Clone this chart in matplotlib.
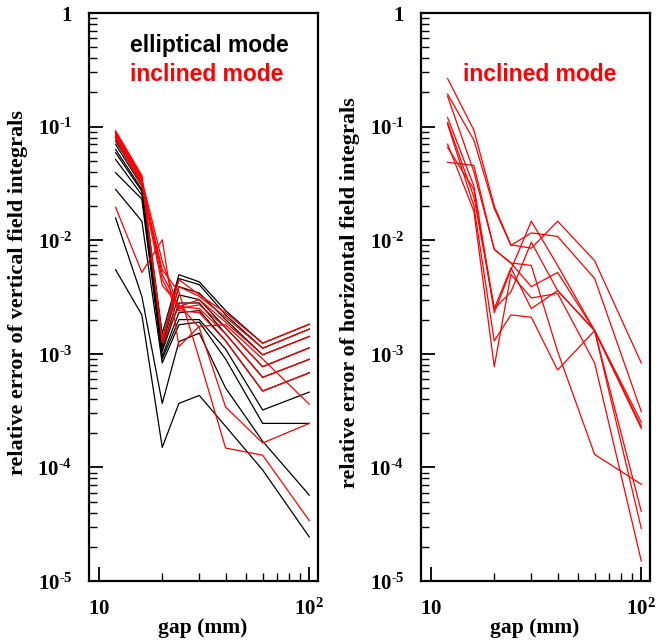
import matplotlib
matplotlib.use("Agg")
import matplotlib.pyplot as plt
from matplotlib.ticker import LogLocator, NullFormatter, FixedLocator

plt.rcParams['mathtext.fontset'] = 'custom'
plt.rcParams['mathtext.rm'] = 'Liberation Serif:bold'
plt.rcParams['mathtext.bf'] = 'Liberation Serif:bold'
plt.rcParams['mathtext.it'] = 'Liberation Serif:bold'

# ---------------- data ----------------
gap = [12, 16, 20, 24, 30, 40, 60, 100]

# left panel: relative error of vertical field integrals, elliptical mode
elliptical_vertical = [
    [0.080, 0.034, 1.5e-3, 4.97e-3, 4.3e-3, 2.4e-3, 1.24e-3, 1.82e-3],
    [0.0746, 0.032, 1.3e-3, 4.6e-3, 4.06e-3, 2.2e-3, 1.12e-3, 1.65e-3],
    [0.0698, 0.030, 1.2e-3, 3.9e-3, 3.42e-3, 2.0e-3, 9.8e-4, 1.42e-3],
    [0.063, 0.028, 1.1e-3, 3.3e-3, 3.0e-3, 1.7e-3, 7.7e-4, 1.13e-3],
    [0.059, 0.027, 1.05e-3, 2.8e-3, 2.8e-3, 1.5e-3, 6.2e-4, 8.95e-4],
    [0.0514, 0.025, 9.5e-4, 2.3e-3, 2.4e-3, 1.3e-3, 4.7e-4, 6.8e-4],
    [0.0393, 0.023, 9.0e-4, 2.0e-3, 2.0e-3, 1.1e-3, 3.2e-4, 4.6e-4],
    [0.028, 0.0147, 8.3e-4, 1.8e-3, 1.9e-3, 9.0e-4, 2.44e-4, 2.44e-4],
    [0.0157, 3.2e-3, 3.66e-4, 1.28e-3, 1.52e-3, 5.0e-4, 1.7e-4, 5.7e-5],
    [0.0055, 2.2e-3, 1.5e-4, 3.66e-4, 4.3e-4, 2.3e-4, 9.5e-5, 2.44e-5],
]

# left panel: inclined mode
inclined_vertical = [
    [0.092, 0.037, 1.35e-3, 4.5e-3, 3.3e-3, 2.3e-3, 1.24e-3, 1.82e-3],
    [0.090, 0.036, 1.3e-3, 3.9e-3, 3.2e-3, 2.1e-3, 1.12e-3, 1.65e-3],
    [0.088, 0.035, 1.25e-3, 2.6e-3, 3.0e-3, 1.9e-3, 9.8e-4, 1.42e-3],
    [0.086, 0.034, 6.5e-3, 2.5e-3, 2.7e-3, 1.7e-3, 7.7e-4, 1.13e-3],
    [0.084, 0.033, 5.0e-3, 2.6e-3, 2.5e-3, 1.5e-3, 6.2e-4, 8.95e-4],
    [0.082, 0.032, 4.5e-3, 2.4e-3, 2.3e-3, 1.3e-3, 4.7e-4, 6.8e-4],
    [0.080, 0.031, 5.5e-3, 3.5e-3, 9.0e-4, 1.48e-4, 1.28e-4, 3.4e-5],
    [0.078, 0.030, 4.0e-3, 2.7e-3, 1.7e-3, 3.4e-4, 1.64e-4, 2.44e-4],
    [0.0195, 5.2e-3, 0.0101, 1.16e-3, 1.75e-3, 1.8e-3, 9.0e-4, 3.6e-4],
]

# right panel: relative error of horizontal field integrals, inclined mode
inclined_horizontal = [
    [0.265, 0.093, 0.020, 0.0091, 0.0085, 0.0147, 0.0066, 8.3e-4],
    [0.193, 0.076, 0.019, 0.0090, 0.0116, 0.0108, 0.0046, 3.1e-4],
    [0.185, 0.040, 0.0083, 0.0063, 0.0039, 0.0052, 0.0016, 2.3e-4],
    [0.120, 0.030, 0.0023, 0.0055, 0.0147, 0.0060, 0.0016, 2.5e-4],
    [0.109, 0.024, 0.0025, 0.0035, 0.0096, 0.0036, 0.0016, 2.9e-5],
    [0.105, 0.020, 0.0013, 0.0022, 0.0021, 7.2e-4, 0.0016, 2.2e-4],
    [0.070, 0.018, 7.7e-4, 0.0050, 0.0031, 0.0034, 8.3e-4, 1.5e-5],
    [0.0656, 0.028, 0.0025, 0.0057, 0.0025, 0.0036, 0.0016, 4.1e-5],
    [0.0485, 0.0455, 0.0083, 0.0063, 0.0060, 1.05e-3, 1.3e-4, 7.1e-5],
]

y_ticks = [1e-5, 1e-4, 1e-3, 1e-2, 1e-1, 1]
y_labels = [r'$10^{\text{-}5}$', r'$10^{\text{-}4}$', r'$10^{\text{-}3}$',
            r'$10^{\text{-}2}$', r'$10^{\text{-}1}$', r'$1$']
x_ticks = [10, 100]
x_labels = [r'$10$', r'$10^{2}$']

# ---------------- figure ----------------
W, H = 662, 644
fig = plt.figure(figsize=(W / 100, H / 100), dpi=100)

def px_axes(x0, y0, x1, y1):
    return fig.add_axes([x0 / W, 1 - y1 / H, (x1 - x0) / W, (y1 - y0) / H])

ax1 = px_axes(89, 13, 318, 581)
ax2 = px_axes(421, 13, 650, 581)

RED = '#ff0000'
for ax in (ax1, ax2):
    ax.set_xscale('log')
    ax.set_yscale('log')
    ax.set_xlim(8.97, 110)
    ax.set_ylim(1e-5, 1)
    for s in ax.spines.values():
        s.set_linewidth(1.6)
    ax.set_yticks(y_ticks)
    ax.set_yticklabels(y_labels, fontsize=15)
    ax.set_xticks(x_ticks)
    ax.set_xticklabels(x_labels, fontsize=15)
    ax.yaxis.set_minor_locator(LogLocator(base=10, subs=range(2, 10), numticks=20))
    ax.xaxis.set_minor_locator(FixedLocator([20, 30, 40, 50, 60, 70, 80, 90]))
    ax.xaxis.set_minor_formatter(NullFormatter())
    ax.yaxis.set_minor_formatter(NullFormatter())
    ax.tick_params(which='major', direction='in', length=10, width=1.3,
                   top=False, right=False)
    ax.tick_params(axis='y', which='major', pad=12)
    ax.tick_params(axis='x', which='major', pad=12)
    ax.tick_params(which='minor', direction='in', length=6, width=1.0,
                   top=False, right=False)
    ax.set_xlabel('gap (mm)', fontsize=15.5, fontweight='bold',
                  family='Liberation Serif')
    ax.xaxis.set_label_coords(0.498, -0.066)

for vals in elliptical_vertical:
    ax1.plot(gap, vals, color='black', lw=0.9)
for vals in inclined_vertical:
    ax1.plot(gap, vals, color=RED, lw=0.9)
for vals in inclined_horizontal:
    ax2.plot(gap, vals, color=RED, lw=0.9)

ax1.set_ylabel('relative error of vertical field integrals', fontsize=16,
               fontweight='bold', family='Liberation Serif')
ax2.set_ylabel('relative error of horizontal field integrals', fontsize=16,
               fontweight='bold', family='Liberation Serif')
ax1.yaxis.set_label_coords(-0.268, 0.508)
ax2.yaxis.set_label_coords(-0.268, 0.508)

ax1.text(0.179, 0.942, 'elliptical mode', transform=ax1.transAxes, ha='left',
         va='center', fontsize=16.5, fontweight='bold', family='Liberation Sans',
         color='black')
ax1.text(0.179, 0.891, 'inclined mode', transform=ax1.transAxes, ha='left',
         va='center', fontsize=16.5, fontweight='bold', family='Liberation Sans',
         color=RED)
ax2.text(0.183, 0.891, 'inclined mode', transform=ax2.transAxes, ha='left',
         va='center', fontsize=16.5, fontweight='bold', family='Liberation Sans',
         color=RED)

fig.savefig('out.png', dpi=100)
